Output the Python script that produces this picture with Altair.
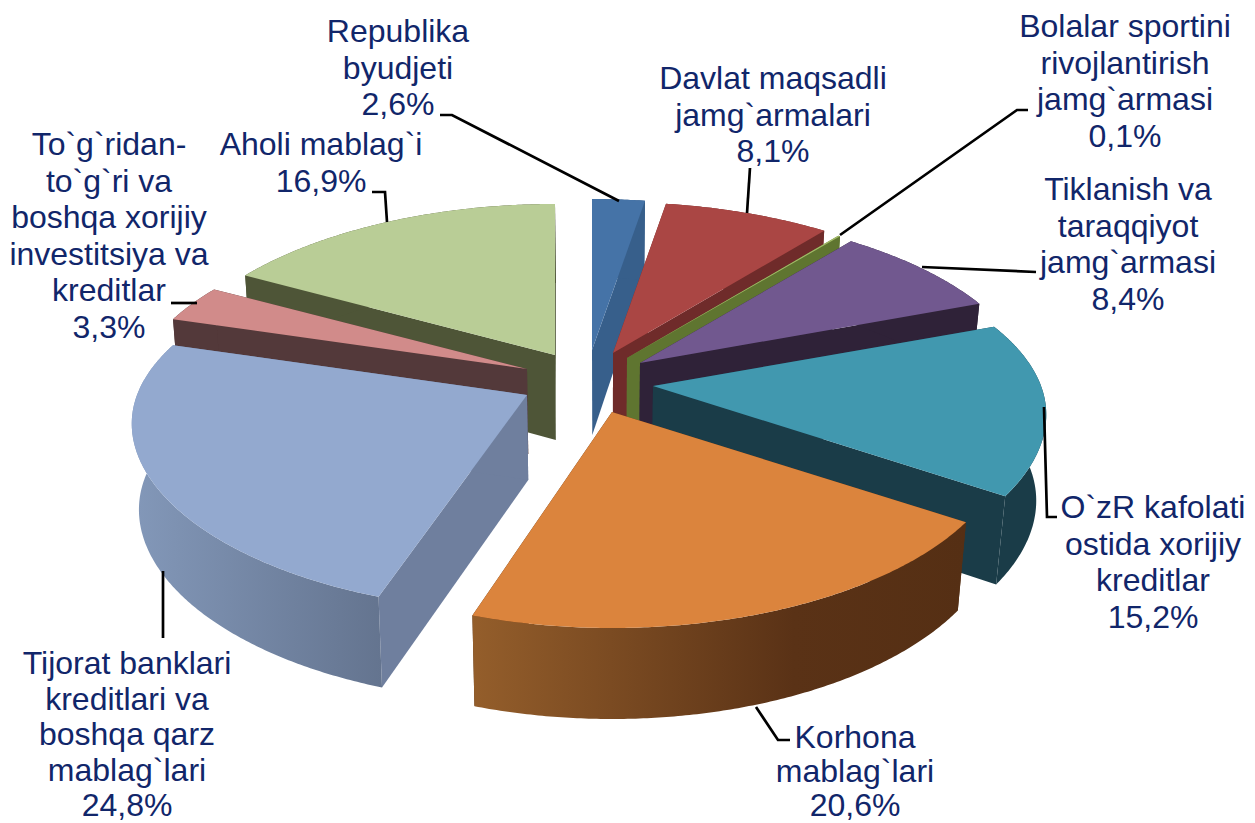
import math
import altair as alt
import pandas as pd

# ---- chart values, clockwise from twelve o'clock
names = ["Republika byudjeti", "Davlat maqsadli jamg`armalari", "Bolalar sportini rivojlantirish jamg`armasi",
         "Tiklanish va taraqqiyot jamg`armasi", "O`zR kafolati ostida xorijiy kreditlar", "Korhona mablag`lari",
         "Tijorat banklari kreditlari va boshqa qarz mablag`lari",
         "To`g`ridan-to`g`ri va boshqa xorijiy investitsiya va kreditlar", "Aholi mablag`i"]
shares = [2.6, 8.1, 0.1, 8.4, 15.2, 20.6, 24.8, 3.3, 16.9]
label_lines = [
    "Republika\nbyudjeti\n2,6%",
    "Davlat maqsadli\njamg`armalari\n8,1%",
    "Bolalar sportini\nrivojlantirish\njamg`armasi\n0,1%",
    "Tiklanish va\ntaraqqiyot\njamg`armasi\n8,4%",
    "O`zR kafolati\nostida xorijiy\nkreditlar\n15,2%",
    "Korhona\nmablag`lari\n20,6%",
    "Tijorat banklari\nkreditlari va\nboshqa qarz\nmablag`lari\n24,8%",
    "To`g`ridan-\nto`g`ri va\nboshqa xorijiy\ninvestitsiya va\nkreditlar\n3,3%",
    "Aholi mablag`i\n16,9%",
]
top_colors = ["#4573a7", "#aa4644", "#a2bb68", "#71588f", "#4198af", "#db843d", "#93a9cf", "#d18b8a", "#b9cd96"]
side_colors = ["#375f8b", "#6f2b2a", "#5f7530", "#2f2238", "#1a3c48", "#553015", "#6f7f9e", "#53393a", "#4e5537"]

# ---- layout of the exploded pseudo-3D pie (page pixels)
apex_x = [592, 613, 627, 640, 653, 612, 527, 527, 555]
apex_y = [350, 353, 358, 363, 386, 412, 395, 369, 355]
radius_scale = [1, 1, 1, 0.99, 0.995, 1, 1, 1, 0.99]
start_nudge = [0, 0, 0, 0, 0, 0, 1.2, 0, 0]
label_x = [398, 773, 1125, 1128, 1153, 855, 127, 109, 321]
label_y = [42, 89, 37, 200, 518, 748, 674, 155, 155]
line_heights = [36.6, 36.6, 36.6, 36.6, 36.6, 34, 35.5, 36.6, 36.6]
leader_paths = [
    [(440, 115), (452, 115), (619, 201)],
    [(750, 168), (747, 213)],
    [(1028, 110), (1017, 110), (840, 235)],
    [(1036, 272), (922, 267)],
    [(1044, 407), (1047, 517), (1057, 517)],
    [(756, 707), (778, 740), (790, 740)],
    [(163, 571), (163, 638)],
    [(171, 303), (197, 303)],
    [(372, 192), (385, 192), (387, 222)],
]
draw_order = [8, 7, 0, 1, 2, 3, 4, 6, 5]
PAGE_W, PAGE_H = 1255, 823
FONT = "Liberation Sans"
TEXT_COLOR = "#11266a"
FONT_SIZE = 32


def rim(i, deg):
    t = math.radians(deg)
    sx, cy = math.sin(t), math.cos(t)
    ry = 175 - 24 * cy if cy > 0 else 175 - 41 * cy
    k = radius_scale[i]
    return (apex_x[i] + k * (390 - 65 * cy) * sx, apex_y[i] - ry * cy)


def drop(p, cy):
    shrink = 0.977 if p[0] > 610 else 0.985
    return (610 + (p[0] - 610) * shrink, p[1] + 85 - 6 * cy)


x_enc = alt.X("x:Q", axis=None, scale=alt.Scale(domain=[8, PAGE_W - 8], nice=False, zero=False))
y_enc = alt.Y("y:Q", axis=None, scale=alt.Scale(domain=[PAGE_H, 8], nice=False, zero=False))


def poly(points, fill):
    df = pd.DataFrame({"x": [p[0] for p in points], "y": [p[1] for p in points], "i": range(len(points))})
    return alt.Chart(df).mark_line(filled=True, fill=fill, strokeWidth=0, interpolate="linear").encode(
        x=x_enc, y=y_enc, order="i:Q")


side_gradients = {
    5: alt.Gradient(gradient="linear", x1=0, y1=0, x2=1, y2=0, stops=[
        alt.GradientStop(offset=0, color="#945e2b"), alt.GradientStop(offset=0.65, color="#5a3216"),
        alt.GradientStop(offset=1, color="#552f14")]),
    6: alt.Gradient(gradient="linear", x1=0, y1=0, x2=1, y2=0, stops=[
        alt.GradientStop(offset=0, color="#8398b9"), alt.GradientStop(offset=1, color="#64748f")]),
}

edges = [0.0]
for s in shares:
    edges.append(edges[-1] + s * 3.6)

layers = []
for i in draw_order:
    a0, a1 = edges[i] + start_nudge[i], edges[i + 1]
    n = max(2, int((a1 - a0) * 2))
    degs = [a0 + (a1 - a0) * k / n for k in range(n + 1)]
    arc = [rim(i, d) for d in degs]
    apex = (apex_x[i], apex_y[i])
    apex_low = drop(apex, 0)
    for end, d in ((arc[0], a0), (arc[-1], a1)):
        layers.append(poly([apex, end, drop(end, math.cos(math.radians(d))), apex_low], side_colors[i]))
    low = [drop(p, math.cos(math.radians(d))) for p, d in zip(arc, degs)]
    layers.append(poly(arc + low[::-1], side_gradients.get(i, side_colors[i])))
    layers.append(poly([apex] + arc, top_colors[i]))

for j, path in enumerate(leader_paths):
    df = pd.DataFrame({"x": [p[0] for p in path], "y": [p[1] for p in path], "i": range(len(path))})
    layers.append(alt.Chart(df).mark_line(color="black", strokeWidth=2.7, interpolate="linear").encode(
        x=x_enc, y=y_enc, order="i:Q"))

labels = pd.DataFrame({"x": label_x, "y": label_y, "label": label_lines, "name": names,
                       "share": shares, "lh": line_heights})
for lh, part in labels.groupby("lh"):
    layers.append(alt.Chart(part).mark_text(
        font=FONT, fontSize=FONT_SIZE, color=TEXT_COLOR, align="center", baseline="alphabetic",
        lineBreak="\n", lineHeight=float(lh)).encode(x=x_enc, y=y_enc, text="label:N"))

chart = alt.layer(*layers).properties(
    width=PAGE_W - 16, height=PAGE_H - 8, padding=0,
    autosize=alt.AutoSizeParams(type="none"),
    background="white",
).configure_view(stroke=None)

chart.save("out.html", embed_options={"renderer": "svg", "actions": False})
